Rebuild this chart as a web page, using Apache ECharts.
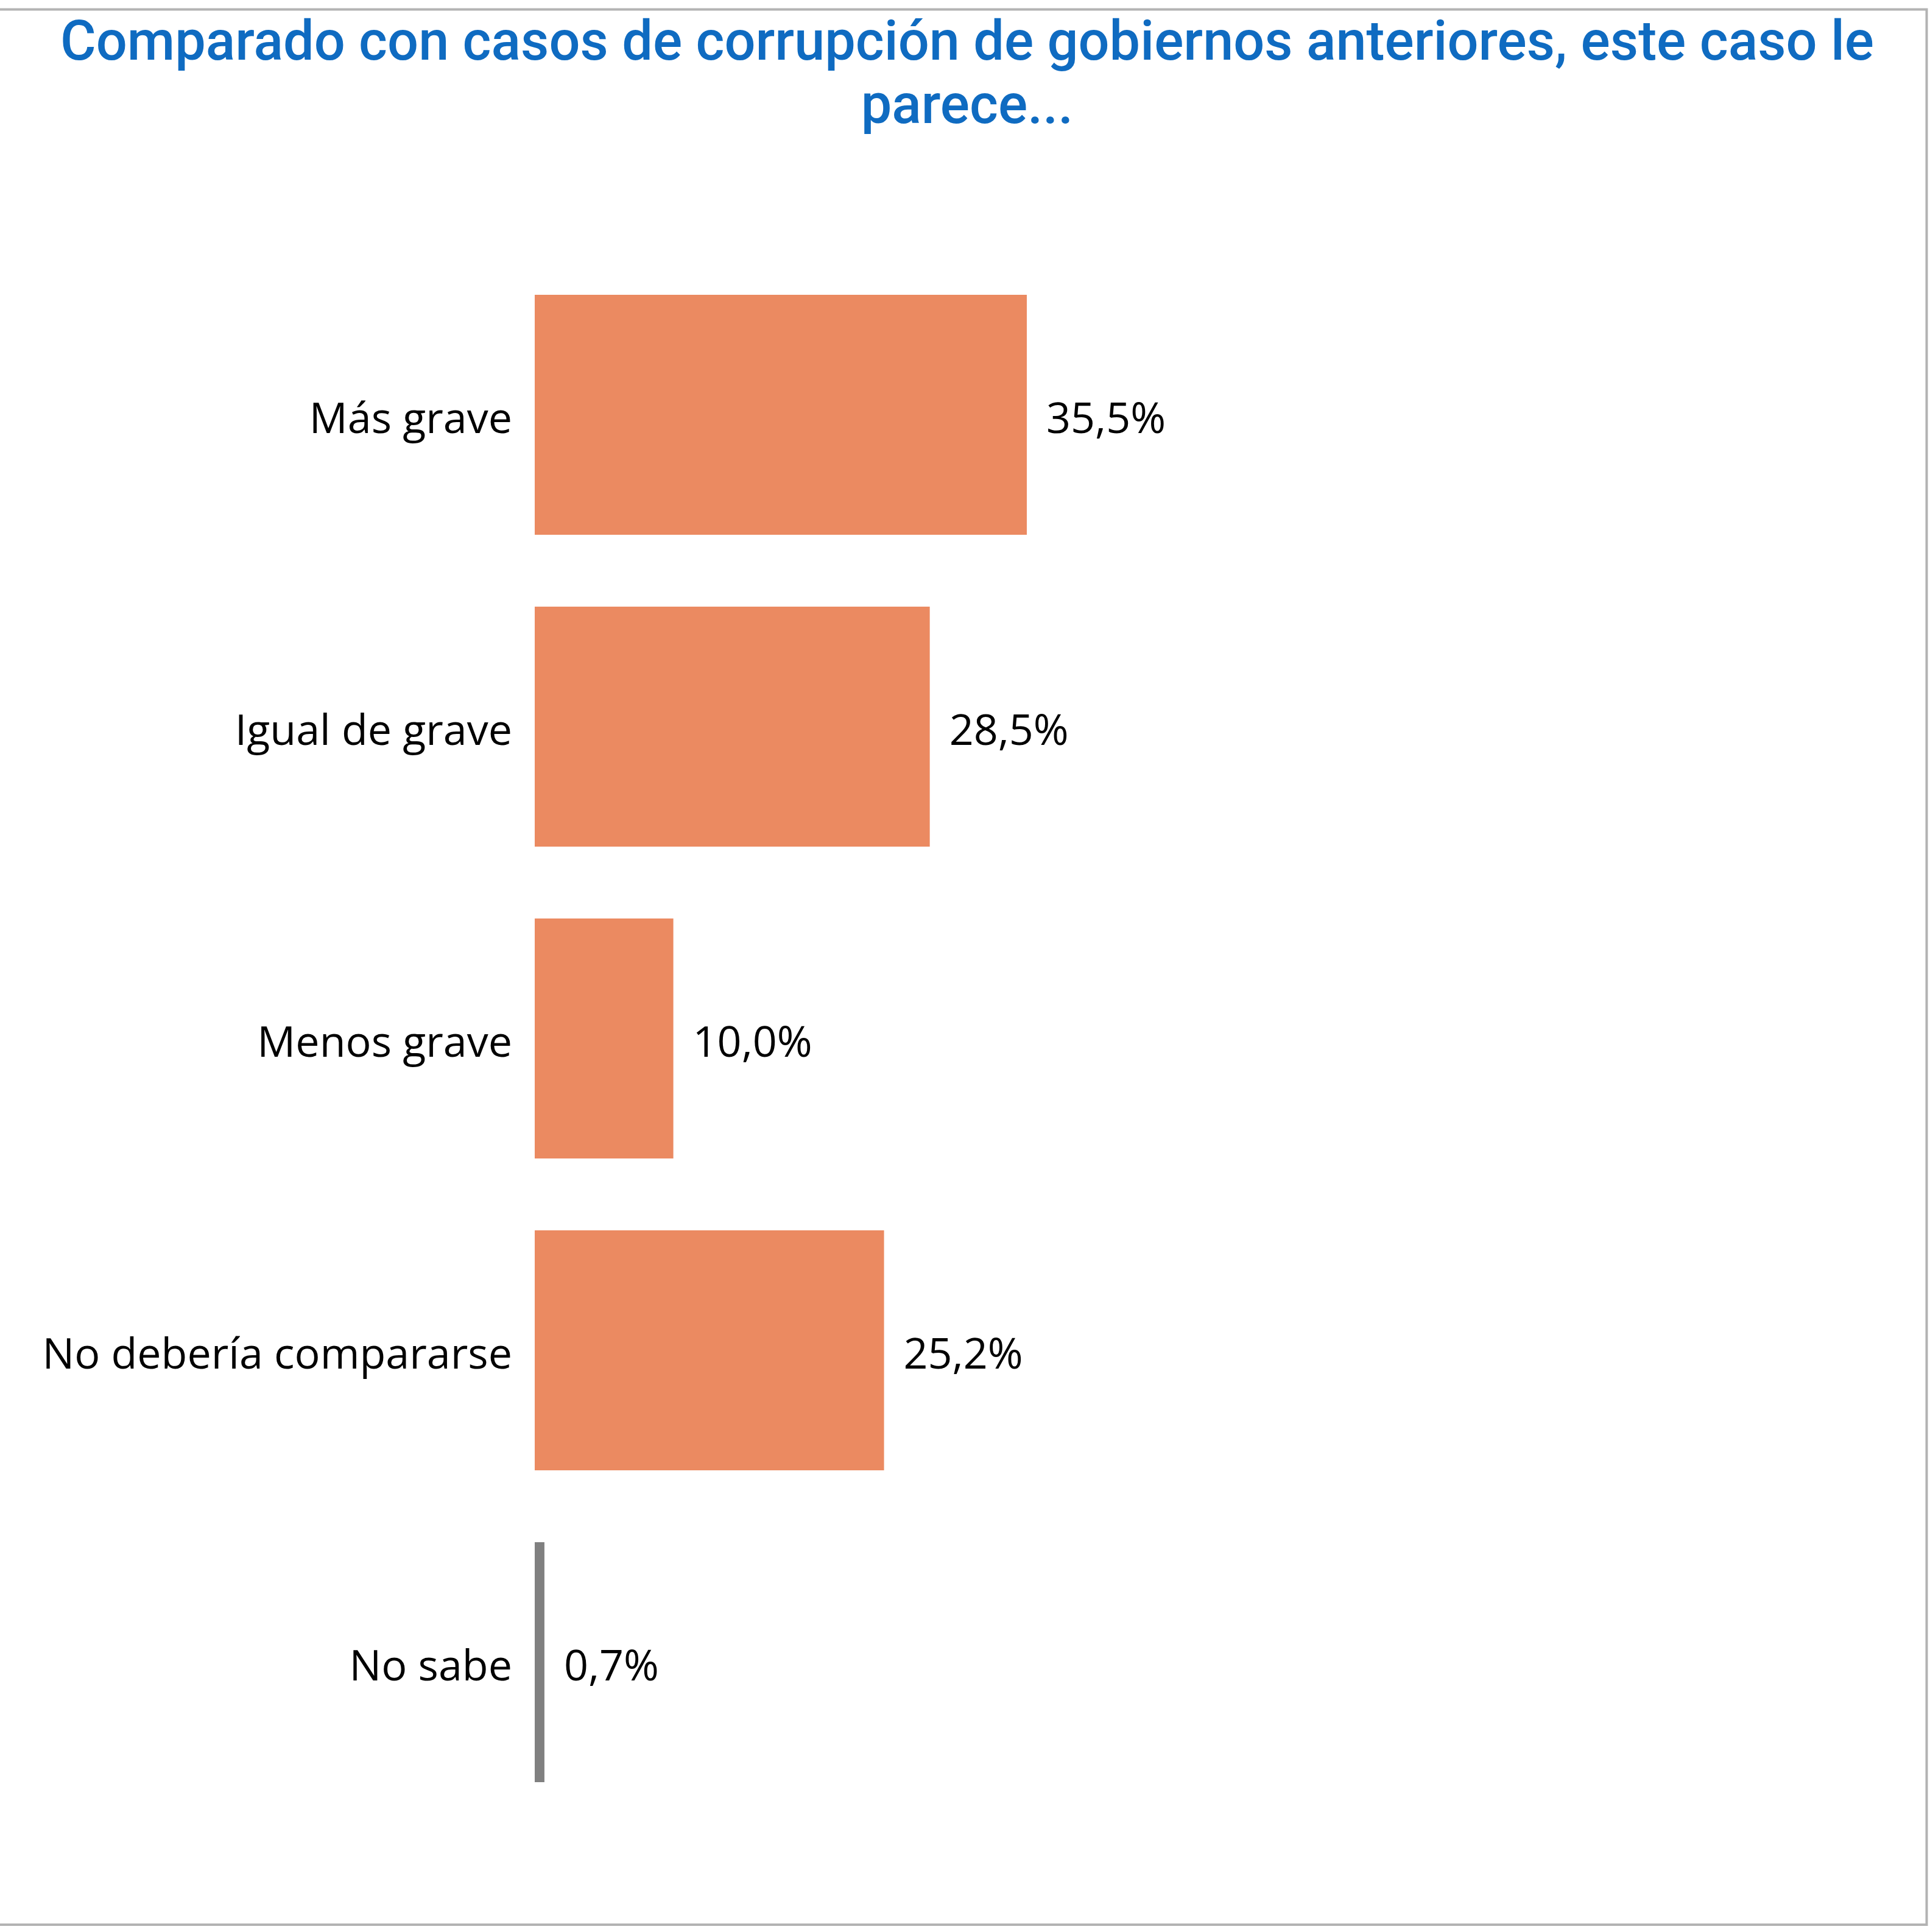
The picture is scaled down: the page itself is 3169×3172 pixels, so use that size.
<!DOCTYPE html>
<html>
<head>
  <meta charset="utf-8" />
  <title>Comparado con casos de corrupción</title>
  <script src="https://cdn.jsdelivr.net/npm/echarts@6/dist/echarts.min.js"></script>
  <style type="text/css">
    html, body { margin: 0; padding: 0; background: #fff; }
    #main { width: 3169px; height: 3172px; }
  </style>
</head>
<body>
  <div id="main"></div>
  <script>
    var categories = ['Más grave', 'Igual de grave', 'Menos grave', 'No debería compararse', 'No sabe'];
    var values = [35.5, 28.5, 10.0, 25.2, 0.7];
    var barColors = ['#eb8a61', '#eb8a61', '#eb8a61', '#eb8a61', '#808080'];

    var myChart = echarts.init(document.getElementById('main'));

    function fmt(v) {
      return v.toFixed(1).replace('.', ',') + '%';
    }

    var option = {
      backgroundColor: '#fff',
      animation: false,
      title: {
        text: 'Comparado con casos de corrupción de gobiernos anteriores, este caso le\nparece...',
        left: 1583,
        top: 18,
        textAlign: 'center',
        textStyle: {
          fontFamily: 'Roboto',
          fontWeight: 500,
          fontSize: 90,
          lineHeight: 104,
          align: 'center',
          color: '#0f6bc1'
        }
      },
      grid: {
        left: 878,
        top: 425,
        width: 2276,
        height: 2560,
        containLabel: false
      },
      xAxis: {
        type: 'value',
        min: 0,
        max: 100,
        show: false
      },
      yAxis: {
        type: 'category',
        inverse: true,
        data: categories,
        axisLine: { show: false },
        axisTick: { show: false },
        axisLabel: {
          margin: 37,
          fontFamily: 'Open Sans',
          fontSize: 70,
          verticalAlign: 'top',
          lineHeight: 20,
          color: '#000'
        }
      },
      series: [{
        type: 'bar',
        barCategoryGap: '23%',
        data: values.map(function (v, i) {
          return { value: v, itemStyle: { color: barColors[i] } };
        }),
        label: {
          show: true,
          position: 'right',
          distance: 32,
          fontFamily: 'Open Sans',
          fontSize: 70,
          verticalAlign: 'top',
          lineHeight: 20,
          color: '#000',
          formatter: function (p) { return fmt(p.value); }
        }
      }],
      graphic: [{
        type: 'polyline',
        shape: { points: [[0, 15.5], [3163.5, 15.5], [3163.5, 3160], [0, 3160]] },
        style: { stroke: '#b3b3b3', lineWidth: 4, fill: null }
      }]
    };

    myChart.setOption(option);
  </script>
</body>
</html>
